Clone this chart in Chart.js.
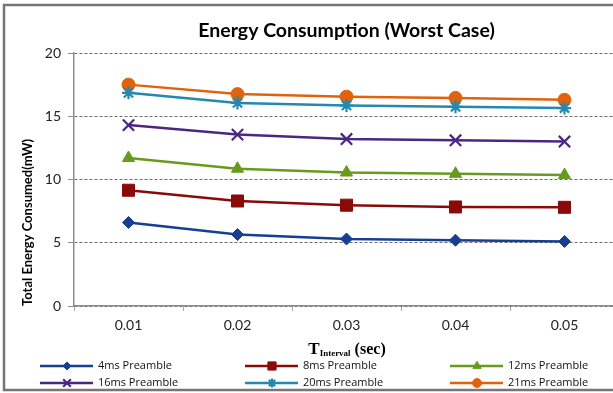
<!DOCTYPE html>
<html>
<head>
<meta charset="utf-8">
<script src="https://cdn.jsdelivr.net/npm/chart.js@4.4.1/dist/chart.umd.min.js"></script>
<style>
html,body{margin:0;padding:0;background:#fff;overflow:hidden;width:613px;height:393px;}
#wrap{position:absolute;left:0;top:0;width:640px;height:393px;}
canvas{display:block;}
</style>
</head>
<body>
<div id="wrap"><canvas id="c" width="640" height="393"></canvas></div>
<script>
const categories = ['0.01', '0.02', '0.03', '0.04', '0.05'];
const seriesNames = ['4ms Preamble', '8ms Preamble', '12ms Preamble', '16ms Preamble', '20ms Preamble', '21ms Preamble'];
const preamble4 = [6.6, 5.65, 5.3, 5.2, 5.1];
const preamble8 = [9.15, 8.3, 7.97, 7.83, 7.8];
const preamble12 = [11.7, 10.85, 10.55, 10.45, 10.35];
const preamble16 = [14.3, 13.55, 13.2, 13.1, 13.0];
const preamble20 = [16.85, 16.05, 15.85, 15.75, 15.65];
const preamble21 = [17.5, 16.75, 16.55, 16.45, 16.3];
const yTicks = [0, 5, 10, 15, 20];

const colors = ['#163f94', '#8a0a0a', '#689a1e', '#4a2780', '#2489ad', '#e2620c'];
const styles = [
  {pointStyle: 'rectRot', radius: 6},
  {pointStyle: 'rect', radius: 8.5},
  {pointStyle: 'triangle', radius: 7},
  {pointStyle: 'crossRot', radius: 8},
  {pointStyle: 'star', radius: 6.5},
  {pointStyle: 'circle', radius: 6.5}
];
const values = [preamble4, preamble8, preamble12, preamble16, preamble20, preamble21];

const datasets = values.map((v, i) => ({
  label: seriesNames[i],
  data: v,
  borderColor: colors[i],
  backgroundColor: colors[i],
  pointBackgroundColor: colors[i],
  pointBorderColor: colors[i],
  borderWidth: 2.5,
  pointStyle: styles[i].pointStyle,
  pointRadius: styles[i].radius,
  pointHoverRadius: styles[i].radius,
  pointBorderWidth: (styles[i].pointStyle === 'crossRot' || styles[i].pointStyle === 'star') ? 2.2 : 1,
  tension: 0,
  fill: false
}));

const deco = {
  id: 'deco',
  beforeDraw(chart) {
    const ctx = chart.ctx;
    ctx.save();
    ctx.fillStyle = '#fff';
    ctx.fillRect(0, 0, chart.width, chart.height);
    ctx.restore();
  },
  afterDraw(chart) {
    const ctx = chart.ctx;
    const ca = chart.chartArea;
    ctx.save();
    // frame
    ctx.strokeStyle = '#767676';
    ctx.lineWidth = 2.5;
    ctx.strokeRect(4, 5, 700, 385);
    // title
    ctx.fillStyle = '#000';
    ctx.font = 'bold 19.5px Lato';
    ctx.textAlign = 'center';
    ctx.textBaseline = 'middle';
    ctx.fillText('Energy Consumption (Worst Case)', (ca.left + ca.right) / 2, 31);
    // x axis title with subscript
    const p1 = 'T', p2 = 'Interval', p3 = ' (sec)';
    const f1 = 'bold 17px "Liberation Serif"', f2 = 'bold 9px "Liberation Serif"', f3 = 'bold 16px "Liberation Serif"';
    ctx.font = f1; const w1 = ctx.measureText(p1).width;
    ctx.font = f2; const w2 = ctx.measureText(p2).width;
    ctx.font = f3; const w3 = ctx.measureText(p3).width;
    let x = 347 - (w1 + w2 + w3) / 2;
    const base = 354;
    ctx.textAlign = 'left';
    ctx.textBaseline = 'alphabetic';
    ctx.font = f1; ctx.fillText(p1, x, base); x += w1;
    ctx.font = f2; ctx.fillText(p2, x, base + 2); x += w2;
    ctx.font = f3; ctx.fillText(p3, x, base);
    // legend
    const cols = [40, 245, 450];
    const rows = [366, 383];
    chart.data.datasets.forEach((ds, i) => {
      const lx = cols[i % 3], ly = rows[Math.floor(i / 3)];
      ctx.strokeStyle = ds.borderColor;
      ctx.lineWidth = 2.5;
      ctx.beginPath();
      ctx.moveTo(lx, ly);
      ctx.lineTo(lx + 53, ly);
      ctx.stroke();
      ctx.fillStyle = ds.borderColor;
      ctx.strokeStyle = ds.borderColor;
      ctx.lineWidth = ds.pointBorderWidth;
      Chart.helpers.drawPoint(ctx, {
        pointStyle: ds.pointStyle,
        radius: ds.pointRadius * 0.68,
        rotation: 0,
        borderWidth: ds.pointBorderWidth
      }, lx + 27, ly);
      ctx.fillStyle = '#111';
      ctx.font = '11px "Open Sans"';
      ctx.textBaseline = 'middle';
      ctx.textAlign = 'left';
      ctx.fillText(ds.label, lx + 58, ly);
    });
    ctx.restore();
  }
};

new Chart(document.getElementById('c'), {
  type: 'line',
  data: {labels: categories, datasets: datasets},
  options: {
    responsive: false,
    animation: false,
    devicePixelRatio: 1,
    layout: {padding: {left: 0, top: 53, right: 21, bottom: 57}},
    plugins: {legend: {display: false}, title: {display: false}, tooltip: {enabled: false}},
    scales: {
      x: {
        type: 'category',
        offset: true,
        afterFit(s) { s.height = 30; },
        grid: {offset: true, drawOnChartArea: false, drawTicks: true, tickLength: 5, color: '#8c8c8c', tickBorderDash: [1, 0]},
        border: {display: true, color: '#8c8c8c', width: 1.5},
        ticks: {color: '#222', font: {family: 'Lato', size: 14}, padding: 6, maxRotation: 0}
      },
      y: {
        min: 0, max: 20,
        afterFit(s) { s.width = 74; },
        afterBuildTicks(s) { s.ticks = yTicks.map(v => ({value: v})); },
        grid: {color: '#6e6e6e', drawTicks: true, tickLength: 6, tickBorderDash: [1, 0], tickColor: '#8c8c8c'},
        border: {display: true, color: '#8c8c8c', width: 1.5, dash: [3, 2]},
        ticks: {color: '#222', font: {family: 'Lato', size: 14}, padding: 7},
        title: {display: true, text: 'Total Energy Consumed(mW)', align: 'start', color: '#000',
                font: {family: 'Lato', size: 13, weight: 'bold'}, padding: {top: 20, bottom: 0}}
      }
    }
  },
  plugins: [deco]
});
</script>
</body>
</html>
